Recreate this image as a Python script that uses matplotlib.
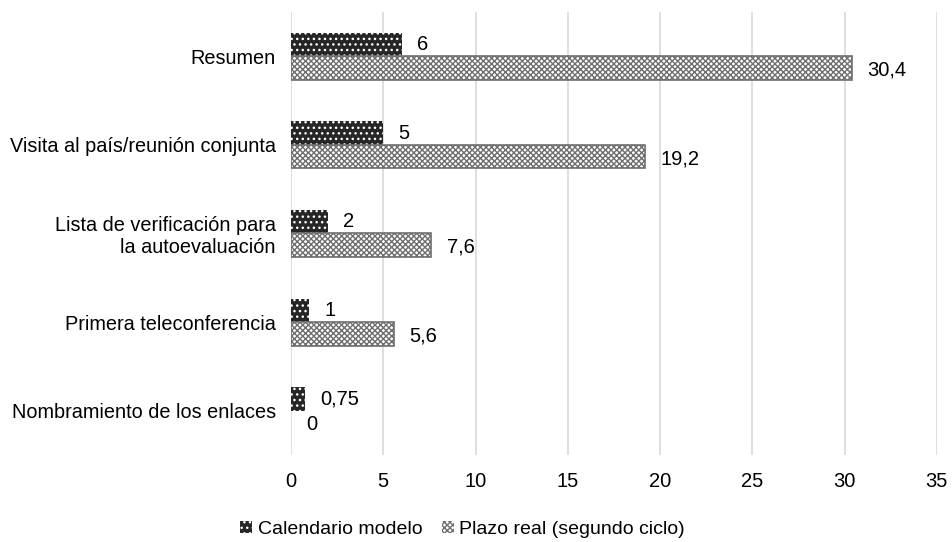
import matplotlib.pyplot as plt
import numpy as np

categories = ["Nombramiento de los enlaces", "Primera teleconferencia",
              "Lista de verificación para\nla autoevaluación",
              "Visita al país/reunión conjunta", "Resumen"]
modelo = [0.75, 1, 2, 5, 6]
real = [0, 5.6, 7.6, 19.2, 30.4]
modelo_labels = ["0,75", "1", "2", "5", "6"]
real_labels = ["0", "5,6", "7,6", "19,2", "30,4"]

plt.rcParams['font.family'] = ['Arial', 'Liberation Sans', 'DejaVu Sans']
plt.rcParams['hatch.linewidth'] = 1.0

fig = plt.figure(figsize=(9.52, 5.42), dpi=100)
ax = fig.add_axes([0.3057, 0.1605, 0.6783, 0.8175])

y = np.arange(len(categories))
h = 0.265

b1 = ax.barh(y + h / 2, modelo, height=h, color='#262626', edgecolor='white',
             linewidth=0, hatch='...', label='Calendario modelo', zorder=3)
b2 = ax.barh(y - h / 2, real, height=h, color='white', edgecolor='#6e6e6e',
             linewidth=1.2, hatch='xxxxxx', label='Plazo real (segundo ciclo)', zorder=3)
for rect, v in zip(b2, real):
    if v == 0:
        rect.set_linewidth(0)

for rect, lab in zip(b1, modelo_labels):
    ax.annotate(lab, (rect.get_width(), rect.get_y() + rect.get_height() / 2),
                xytext=(11, 0), textcoords='offset points', ha='left', va='center',
                fontsize=14.5, color='black')
for rect, lab in zip(b2, real_labels):
    ax.annotate(lab, (rect.get_width(), rect.get_y() + rect.get_height() / 2),
                xytext=(11, -1.5), textcoords='offset points', ha='left', va='center',
                fontsize=14.5, color='black')

ax.set_xlim(0, 35)
ax.set_ylim(-0.5, 4.5)
ax.set_xticks(range(0, 36, 5))
ax.set_yticks(y)
ax.set_yticklabels(categories, fontsize=14.3, ha='right')
ax.tick_params(axis='x', labelsize=14.5, length=0, pad=12)
ax.tick_params(axis='y', length=0, pad=11)
ax.xaxis.grid(True, color='#d9d9d9', linewidth=1.2, zorder=0)
for s in ax.spines.values():
    s.set_visible(False)

fig.legend(handles=[b1, b2], loc='lower center', bbox_to_anchor=(0.486, -0.025),
           ncol=2, frameon=False, fontsize=14, handlelength=0.6, handleheight=0.6,
           handletextpad=0.3, columnspacing=1.0)

fig.savefig('out.png', dpi=100, facecolor='white')
